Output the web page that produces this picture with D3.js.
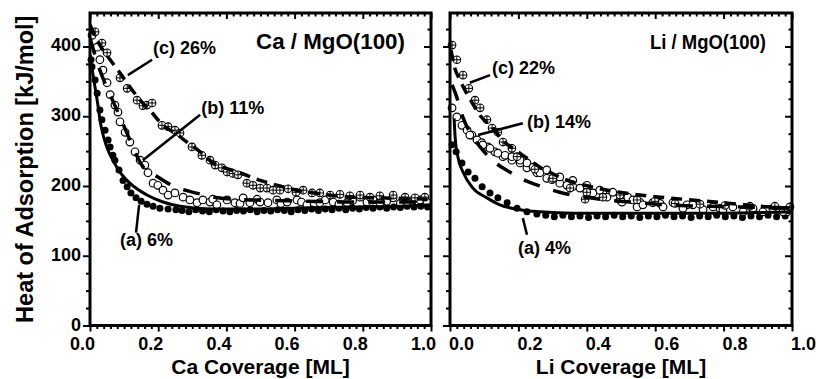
<!DOCTYPE html>
<html>
<head>
<meta charset="utf-8">
<script src="https://cdn.jsdelivr.net/npm/d3@7"></script>
<style>
  html, body { margin: 0; padding: 0; background: #fff; }
  text { font-family: Arial, "Liberation Sans", Helvetica, sans-serif; font-weight: bold; fill: #000; }
</style>
</head>
<body>
<svg id="chart" width="816" height="379"></svg>
<script>
// x = coverage [ML], y = heat of adsorption [kJ/mol]
const caDotsA = [[0.003,381],[0.006,371],[0.015,352],[0.021,333],[0.029,309],[0.035,295],[0.044,280],[0.053,266],[0.059,256],[0.067,244],[0.073,237],[0.085,223],[0.097,208],[0.109,199],[0.120,190],[0.135,183],[0.150,178],[0.167,174],[0.185,171],[0.205,168],[0.229,167],[0.252,166],
  [0.27,165],[0.29,163],[0.31,166],[0.33,164],[0.35,163],[0.37,166],[0.39,164],[0.41,163],[0.43,165],[0.45,164],[0.47,166],[0.49,163],[0.51,165],[0.53,164],[0.55,166],[0.57,165],[0.59,163],[0.61,166],[0.63,165],[0.65,167],[0.67,165],[0.69,167],[0.71,166],[0.73,168],[0.75,166],[0.77,168],[0.79,167],[0.81,169],[0.83,168],[0.85,170],[0.87,168],[0.89,170],[0.91,169],[0.93,171],[0.95,170],[0.97,171],[0.99,170]];
const caFitA = [[0.000,388],[0.009,359],[0.021,323],[0.032,287],[0.047,259],[0.067,237],[0.088,220],[0.117,204],[0.167,187],[0.214,177],[0.264,171],[0.361,167],[0.469,167],[0.616,168.5],[0.762,170],[0.909,171],[1.0,173]];

const caDotsB = [[0.006,416],[0.021,399],[0.029,381],[0.038,366],[0.050,348],[0.059,331],[0.073,316],[0.082,306],[0.088,292],[0.103,277],[0.117,263],[0.132,249],[0.147,237],[0.161,230],[0.170,219],[0.185,204],[0.199,201],[0.214,194],[0.229,187],[0.249,190],[0.273,184],[0.293,180],[0.314,176],[0.331,180],[0.352,177],[0.36,181],[0.372,173],[0.402,180],[0.425,176],[0.44,175],[0.449,183],[0.469,176],[0.49,181],[0.499,177],[0.522,176],[0.548,180],[0.56,175],[0.578,177],[0.607,180],[0.62,177],[0.636,173],[0.674,176],[0.69,180],[0.713,177],[0.73,174],[0.754,176],[0.77,179],[0.792,184],[0.812,177],[0.83,180],[0.850,176],[0.87,178],[0.889,183],[0.91,175],[0.930,177],[0.95,181],[0.968,180],[0.988,177]];
const caFitB = [[0.000,412],[0.029,366],[0.059,331],[0.088,299],[0.117,266],[0.152,230],[0.199,213],[0.249,199],[0.287,193],[0.337,187],[0.375,183],[0.469,180],[0.616,178.5],[0.762,177],[1.0,177]];

const caDotsC = [[0.015,421],[0.035,405],[0.050,391],[0.088,355],[0.109,340],[0.138,323],[0.155,315],[0.167,316],[0.182,319],[0.211,287],[0.229,285],[0.249,280],[0.264,276],[0.299,256],[0.328,244],[0.352,237],[0.367,230],[0.387,226],[0.402,220],[0.419,218],[0.434,216],[0.460,204],[0.478,201],[0.499,197],[0.519,197],[0.537,194],[0.557,194],[0.581,196],[0.604,191],[0.625,194],[0.651,190],[0.674,190],[0.704,187],[0.733,188],[0.762,186],[0.792,187],[0.821,184],[0.850,186],[0.889,187],[0.924,184],[0.953,183],[0.982,184]];
const caFitC = [[0.000,431],[0.029,402],[0.059,381],[0.088,362],[0.117,342],[0.147,323],[0.182,305],[0.214,287],[0.249,276],[0.287,262],[0.323,249],[0.361,233],[0.396,226],[0.440,219],[0.499,208],[0.557,200],[0.616,193],[0.674,189],[0.762,184],[0.850,183],[1.0,181]];

const liDotsA = [[0.006,259],[0.018,249],[0.035,233],[0.053,220],[0.073,211],[0.094,199],[0.117,190],[0.140,183],[0.167,176],[0.196,168],[0.225,163],[0.254,160],
  [0.280,158],[0.305,156],[0.330,158],[0.355,156],[0.380,157],[0.405,155],[0.430,157],[0.455,156],[0.480,158],[0.505,156],[0.530,157],[0.555,155],[0.580,157],[0.605,156],[0.630,158],[0.655,156],[0.680,157],[0.705,155],[0.730,157],[0.755,156],[0.780,158],[0.805,156],[0.830,157],[0.855,155],[0.880,157],[0.905,156],[0.930,158],[0.955,156],[0.980,157]];
const liFitA = [[0.012,297],[0.015,270],[0.023,242],[0.038,220],[0.067,197],[0.108,183],[0.146,173],[0.205,166],[0.263,163],[0.360,161],[0.585,161],[0.789,161],[1.0,163]];

const liDotsB = [[0.006,312],[0.020,299],[0.035,287],[0.050,280],[0.064,273],[0.079,266],[0.093,262],[0.111,256],[0.131,249],[0.155,242],[0.181,237],[0.205,233],[0.225,226],[0.254,219],[0.283,211],[0.321,204],[0.359,199],[0.400,194],[0.447,190],[0.497,180],[0.555,177],[0.614,175],[0.693,173],[0.789,168],[0.886,166],[0.985,163],
  [0.058,273],[0.096,259],[0.117,254],[0.140,247],[0.161,244],[0.181,242],[0.205,237],[0.225,233],[0.243,227],[0.263,219],[0.283,223],[0.298,209],[0.321,213],[0.342,201],[0.359,208],[0.380,197],[0.400,201],[0.418,190],[0.438,194],[0.459,184],[0.476,191],[0.503,177],[0.520,184],[0.547,170],
  [0.535,180],[0.564,173],[0.593,176],[0.623,170],[0.652,176],[0.681,168],[0.710,173],[0.740,166],[0.769,170],[0.798,166],[0.827,170],[0.857,163],[0.886,168],[0.915,163],[0.944,168],[0.974,163],[0.988,166]];
const liFitB = [[0.006,345],[0.018,330],[0.035,302],[0.058,277],[0.088,256],[0.131,234],[0.175,220],[0.219,208],[0.257,201],[0.321,191],[0.409,183],[0.526,177],[0.672,172],[0.848,170],[1.0,168]];

const liDotsC = [[0.006,402],[0.020,381],[0.038,359],[0.055,340],[0.073,323],[0.088,312],[0.108,295],[0.123,283],[0.140,277],[0.155,263],[0.181,254],[0.196,242],[0.248,224],[0.301,211],[0.351,197],[0.395,181],[0.400,191],[0.447,184],[0.497,187],[0.547,180],[0.599,178],[0.658,175],[0.731,174],[0.804,172],[0.877,171],[0.950,171],[0.994,170]];
const liFitC = [[0.003,395],[0.014,369],[0.029,352],[0.044,337],[0.064,320],[0.088,301],[0.126,283],[0.152,266],[0.184,254],[0.225,240],[0.263,227],[0.307,216],[0.351,207],[0.395,201],[0.438,196],[0.526,189],[0.614,184],[0.731,179],[0.839,174],[0.906,171],[1.0,168]];

const xTicks = [0, 0.2, 0.4, 0.6, 0.8, 1.0];
const yTicks = [0, 100, 200, 300, 400];

// [leader start, leader end, label position, text]
const caNotes = [
  [[0.111,359],[0.182,381],[0.185,389],"(c) 26%"],
  [[0.155,237],[0.323,302],[0.326,303],"(b) 11%"],
  [[0.135,133],[0.144,173],[0.088,114],"(a) 6%"]
];
const liNotes = [
  [[0.058,348],[0.117,359],[0.123,360],"(c) 22%"],
  [[0.082,273],[0.213,290],[0.225,283],"(b) 14%"],
  [[0.225,130],[0.213,154],[0.199,102],"(a) 4%"]
];

const svg = d3.select("#chart");
const yTop = 13, yBottom = 325.5;
const y = d3.scaleLinear().domain([0, 448]).range([yBottom, yTop]);

const panels = [
  { id: "ca", left: 90, right: 431, labelDx: -8, title: "Ca / MgO(100)", titleSize: 22, titleLen: 149, xTitle: "Ca Coverage [ML]", yLabels: true,
    series: [[caDotsA, caFitA, "a"], [caDotsB, caFitB, "b"], [caDotsC, caFitC, "c"]], notes: caNotes },
  { id: "li", left: 450, right: 792, labelDx: 11, title: "Li / MgO(100)", titleSize: 21, titleLen: 116, xTitle: "Li Coverage [ML]", yLabels: false,
    series: [[liDotsA, liFitA, "a"], [liDotsB, liFitB, "b"], [liDotsC, liFitC, "c"]], notes: liNotes }
];

const dash = { a: null, b: "17,14", c: "11,7" };
const yMinor = d3.range(25, 448, 25).filter(v => v % 100 !== 0);
const xMinor = d3.range(0.02, 1.0, 0.02).filter(v => Math.abs(v * 5 - Math.round(v * 5)) > 1e-6);

function styleAxis(g) {
  g.select(".domain").remove();
  g.selectAll("line").attr("stroke", "#000").attr("stroke-width", 2);
  g.selectAll("text").style("font-size", "18px").style("font-family", "Arial, 'Liberation Sans', sans-serif").style("font-weight", "bold");
}

panels.forEach(p => {
  const x = d3.scaleLinear().domain([0, 1]).range([p.left, p.right]);
  const g = svg.append("g").attr("class", p.id);

  svg.append("clipPath").attr("id", "clip-" + p.id)
    .append("rect").attr("x", p.left).attr("y", yTop).attr("width", p.right - p.left).attr("height", yBottom - yTop);

  // ticks
  g.append("g").attr("transform", `translate(${p.left},0)`)
    .call(d3.axisLeft(y).tickValues(yTicks).tickSize(7).tickPadding(2).tickFormat(p.yLabels ? d3.format("d") : ""))
    .call(styleAxis)
    .selectAll("text").attr("dy", "0.25em");
  g.append("g").attr("transform", `translate(${p.left},0)`)
    .call(d3.axisLeft(y).tickValues(yMinor).tickSize(4).tickFormat("")).call(styleAxis);
  g.append("g").attr("transform", `translate(${p.right},0)`)
    .call(d3.axisRight(y).tickValues(yTicks).tickSize(-7).tickFormat("")).call(styleAxis);
  g.append("g").attr("transform", `translate(${p.right},0)`)
    .call(d3.axisRight(y).tickValues(yMinor).tickSize(-3.5).tickFormat("")).call(styleAxis);

  g.append("g").attr("transform", `translate(0,${yBottom})`)
    .call(d3.axisBottom(x).tickValues(xTicks).tickSize(6).tickFormat("")).call(styleAxis);
  g.append("g").attr("transform", `translate(0,${yBottom})`)
    .call(d3.axisBottom(x).tickValues(xMinor).tickSize(3.5).tickFormat("")).call(styleAxis);
  g.append("g").attr("transform", `translate(0,${yTop})`)
    .call(d3.axisTop(x).tickValues(xTicks).tickSize(-6).tickFormat("")).call(styleAxis);
  g.append("g").attr("transform", `translate(0,${yTop})`)
    .call(d3.axisTop(x).tickValues(xMinor).tickSize(-3.5).tickFormat("")).call(styleAxis);

  g.append("g").attr("transform", `translate(0,${yBottom})`)
    .call(d3.axisBottom(x).tickValues(xTicks).tickSize(0).tickPadding(11.5).tickFormat(d3.format(".1f")))
    .call(styleAxis)
    .selectAll("text").attr("dx", p.labelDx);

  // markers
  const marks = g.append("g");
  p.series.forEach(([pts, fit, kind]) => {
    const m = marks.append("g");
    if (kind === "a") {
      m.selectAll("circle").data(pts).join("circle")
        .attr("cx", d => x(d[0])).attr("cy", d => y(d[1])).attr("r", 3.5).attr("fill", "#000");
    } else if (kind === "b") {
      m.selectAll("circle").data(pts).join("circle")
        .attr("cx", d => x(d[0])).attr("cy", d => y(d[1])).attr("r", 3.8)
        .attr("fill", "#fff").attr("stroke", "#000").attr("stroke-width", 1.2);
    } else {
      const c = m.selectAll("g").data(pts).join("g")
        .attr("transform", d => `translate(${x(d[0])},${y(d[1])})`);
      c.append("circle").attr("r", 3.8).attr("fill", "#fff").attr("stroke", "#000").attr("stroke-width", 1.1);
      c.append("path").attr("d", "M-3.8,0H3.8M0,-3.8V3.8").attr("stroke", "#000").attr("stroke-width", 1);
    }
  });

  // fitted curves
  const line = d3.line().x(d => x(d[0])).y(d => y(d[1])).curve(d3.curveMonotoneX);
  const lines = g.append("g").attr("clip-path", `url(#clip-${p.id})`);
  p.series.forEach(([pts, fit, kind]) => {
    lines.append("path").datum(fit)
      .attr("fill", "none").attr("stroke", "#000")
      .attr("stroke-width", kind === "a" ? 3 : 3.5)
      .attr("stroke-dasharray", dash[kind])
      .attr("d", line);
  });

  // frame
  g.append("rect").attr("x", p.left).attr("y", yTop)
    .attr("width", p.right - p.left).attr("height", yBottom - yTop)
    .attr("fill", "none").attr("stroke", "#000").attr("stroke-width", 3);

  // annotations
  p.notes.forEach(([a, b, t, label]) => {
    g.append("line").attr("x1", x(a[0])).attr("y1", y(a[1])).attr("x2", x(b[0])).attr("y2", y(b[1]))
      .attr("stroke", "#000").attr("stroke-width", 2.5);
    g.append("text").attr("x", x(t[0])).attr("y", y(t[1])).style("font-size", "18px").text(label);
  });

  g.append("text").attr("x", p.right - 26).attr("y", 49).attr("text-anchor", "end")
    .attr("textLength", p.titleLen).attr("lengthAdjust", "spacingAndGlyphs")
    .style("font-size", p.titleSize + "px").text(p.title);

  g.append("text").attr("x", (p.left + p.right) / 2).attr("y", 373.5).attr("text-anchor", "middle")
    .style("font-size", "21px").text(p.xTitle);
});

svg.append("text").attr("transform", `translate(33,${(yTop + yBottom) / 2}) rotate(-90)`)
  .attr("text-anchor", "middle").style("font-size", "23.5px").text("Heat of Adsorption [kJ/mol]");
</script>
</body>
</html>
